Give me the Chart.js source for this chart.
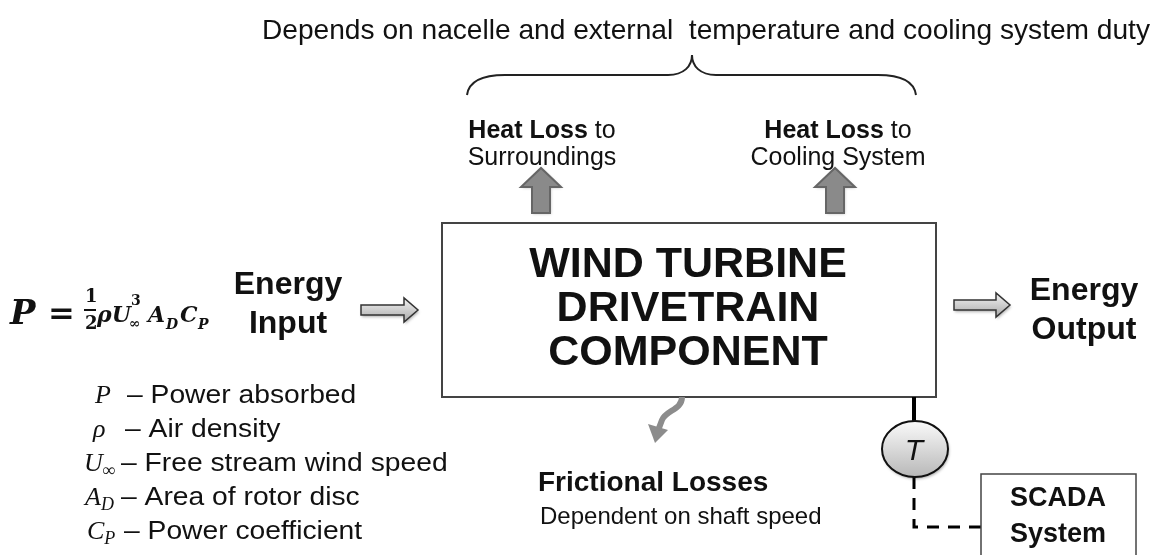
<!DOCTYPE html>
<html>
<head>
<meta charset="utf-8">
<title>Wind turbine drivetrain component</title>
<script src="https://cdn.jsdelivr.net/npm/chart.js@4.4.1/dist/chart.umd.min.js"></script>
<style>
    body { margin: 0; background: #fff; }
    #wrap { width: 1157px; height: 555px; }
</style>
</head>
<body>
<div id="wrap"><canvas id="diagram" width="1157" height="555"></canvas></div>
<script>
// texts of the diagram
const topNote = ['Depends on nacelle and external  temperature and cooling system duty'];
const heatLossBold = ['Heat Loss', 'Heat Loss'];
const heatLossTo = [' to', ' to'];
const heatLossTargets = ['Surroundings', 'Cooling System'];
const componentLines = ['WIND TURBINE', 'DRIVETRAIN', 'COMPONENT'];
const inputLines = ['Energy', 'Input'];
const outputLines = ['Energy', 'Output'];
const legendSymbols = ['P', 'ρ', 'U', 'A', 'C'];
const legendSubs = ['', '', '∞', 'D', 'P'];
const legendLabels = ['– Power absorbed', '– Air density', '– Free stream wind speed', '– Area of rotor disc', '– Power coefficient'];
const frictionLines = ['Frictional Losses', 'Dependent on shaft speed'];
const sensorLabel = ['T'];
const scadaLines = ['SCADA', 'System'];

const W = 1157, H = 555;
const SANS = '"Liberation Sans", Arial, sans-serif';
const SERIF = '"DejaVu Serif", "Liberation Serif", serif';

const diagramPlugin = {
    id: 'diagram',
    afterDraw(chart) {
        const ctx = chart.ctx;
        const xs = chart.scales.x, ys = chart.scales.y;
        const px = v => xs.getPixelForValue(v);
        const py = v => ys.getPixelForValue(v);

        const text = (str, x, y, font, align, color) => {
            ctx.font = font;
            ctx.textAlign = align || 'center';
            ctx.textBaseline = 'alphabetic';
            ctx.fillStyle = color || '#111';
            ctx.fillText(str, px(x), py(y));
        };
        // text stretched horizontally by sx
        const wideText = (str, x, y, font, align, sx) => {
            ctx.save();
            ctx.translate(px(x), py(y));
            ctx.scale(sx, 1);
            ctx.font = font;
            ctx.textAlign = align;
            ctx.textBaseline = 'alphabetic';
            ctx.fillStyle = '#111';
            ctx.fillText(str, 0, 0);
            ctx.restore();
        };

        ctx.save();

        // top note, squeezed to its width
        ctx.font = '28px ' + SANS;
        const w0 = ctx.measureText(topNote[0]).width;
        wideText(topNote[0], 706, 39, '28px ' + SANS, 'center', 888 / w0);

        // curly brace
        ctx.beginPath();
        ctx.strokeStyle = '#222';
        ctx.lineWidth = 2;
        ctx.moveTo(px(467), py(95));
        ctx.bezierCurveTo(px(469), py(80), px(485), py(75), px(505), py(75));
        ctx.lineTo(px(668), py(75));
        ctx.bezierCurveTo(px(684), py(75), px(692), py(66), px(692), py(55));
        ctx.bezierCurveTo(px(692), py(66), px(700), py(75), px(716), py(75));
        ctx.lineTo(px(878), py(75));
        ctx.bezierCurveTo(px(898), py(75), px(914), py(80), px(916), py(95));
        ctx.stroke();

        // heat loss labels
        const heatX = [542, 838];
        heatX.forEach((cx, i) => {
            const bold = 'bold 25px ' + SANS, reg = '25px ' + SANS;
            ctx.font = bold;
            const wb = ctx.measureText(heatLossBold[i]).width;
            ctx.font = reg;
            const wr = ctx.measureText(heatLossTo[i]).width;
            const left = cx - (wb + wr) / 2;
            text(heatLossBold[i], left, 138, bold, 'left');
            text(heatLossTo[i], left + wb, 138, reg, 'left');
            text(heatLossTargets[i], cx, 165, reg, 'center');
        });

        // upward block arrows
        const upArrow = (cx) => {
            ctx.save();
            ctx.shadowColor = 'rgba(0,0,0,0.25)';
            ctx.shadowBlur = 3;
            ctx.shadowOffsetX = 1;
            ctx.shadowOffsetY = 1;
            ctx.beginPath();
            ctx.moveTo(px(cx - 9), py(213));
            ctx.lineTo(px(cx - 9), py(187));
            ctx.lineTo(px(cx - 20), py(187));
            ctx.lineTo(px(cx), py(168));
            ctx.lineTo(px(cx + 20), py(187));
            ctx.lineTo(px(cx + 9), py(187));
            ctx.lineTo(px(cx + 9), py(213));
            ctx.closePath();
            ctx.fillStyle = '#8a8a8a';
            ctx.fill();
            ctx.restore();
            ctx.strokeStyle = '#666';
            ctx.lineWidth = 2;
            ctx.stroke();
        };
        upArrow(541);
        upArrow(835);

        // main component box
        ctx.strokeStyle = '#444';
        ctx.lineWidth = 2;
        ctx.strokeRect(px(442), py(223), px(936) - px(442), py(397) - py(223));
        componentLines.forEach((s, i) => text(s, 688, 277 + i * 44, 'bold 43px ' + SANS));

        // horizontal block arrows
        const rightArrow = (x0, x1, cy) => {
            const grad = ctx.createLinearGradient(0, py(cy - 12), 0, py(cy + 12));
            grad.addColorStop(0, '#f4f4f4');
            grad.addColorStop(1, '#a8a8a8');
            ctx.save();
            ctx.shadowColor = 'rgba(0,0,0,0.3)';
            ctx.shadowBlur = 3;
            ctx.shadowOffsetX = 1;
            ctx.shadowOffsetY = 2;
            ctx.beginPath();
            ctx.moveTo(px(x0), py(cy - 5));
            ctx.lineTo(px(x1 - 14), py(cy - 5));
            ctx.lineTo(px(x1 - 14), py(cy - 12));
            ctx.lineTo(px(x1), py(cy));
            ctx.lineTo(px(x1 - 14), py(cy + 12));
            ctx.lineTo(px(x1 - 14), py(cy + 5));
            ctx.lineTo(px(x0), py(cy + 5));
            ctx.closePath();
            ctx.fillStyle = grad;
            ctx.fill();
            ctx.restore();
            ctx.strokeStyle = '#333';
            ctx.lineWidth = 1.5;
            ctx.stroke();
        };
        rightArrow(361, 418, 310);
        rightArrow(954, 1010, 305);

        // energy in / out
        inputLines.forEach((s, i) => text(s, 288, 294 + i * 39, 'bold 32px ' + SANS));
        outputLines.forEach((s, i) => text(s, 1084, 300 + i * 39, 'bold 32px ' + SANS));

        // power formula
        const fb = 'italic bold ';
        text('P', 10, 324, fb + '34px ' + SERIF, 'left');
        text('=', 48, 324, 'bold 32px ' + SERIF, 'left');
        text('1', 85, 302, 'bold 18px ' + SERIF, 'left');
        ctx.fillStyle = '#111';
        ctx.fillRect(px(84), py(309), px(96) - px(84), 2);
        text('2', 85, 329, 'bold 18px ' + SERIF, 'left');
        text('ρU', 97, 322, fb + '22px ' + SERIF, 'left');
        text('3', 131, 305, 'bold 14px ' + SERIF, 'left');
        text('∞', 129, 328, 'bold 14px ' + SERIF, 'left');
        text('A', 148, 322, fb + '22px ' + SERIF, 'left');
        text('D', 166, 329, fb + '14px ' + SERIF, 'left');
        text('C', 180, 322, fb + '22px ' + SERIF, 'left');
        text('P', 198, 329, fb + '14px ' + SERIF, 'left');

        // symbol legend
        const symX = [95, 93, 84, 85, 87];
        const dashX = [127, 125, 121, 121, 124];
        legendSymbols.forEach((s, i) => {
            const base = 403 + i * 34;
            const symFont = 'italic 26px "Liberation Serif", serif';
            text(s, symX[i], base, symFont, 'left');
            ctx.font = symFont;
            const sw = ctx.measureText(s).width;
            if (legendSubs[i]) text(legendSubs[i], symX[i] + sw, base + 5, 'italic 18px "Liberation Serif", serif', 'left');
            wideText(legendLabels[i], dashX[i], base, '25px ' + SANS, 'left', 1.13);
        });

        // frictional losses squiggle
        ctx.beginPath();
        ctx.strokeStyle = '#8c8c8c';
        ctx.lineWidth = 6;
        ctx.lineCap = 'butt';
        ctx.moveTo(px(682), py(397));
        ctx.bezierCurveTo(px(682), py(410), px(666), py(410), px(662), py(420));
        ctx.lineTo(px(659), py(428));
        ctx.stroke();
        ctx.beginPath();
        ctx.moveTo(px(648), py(424));
        ctx.lineTo(px(668), py(430));
        ctx.lineTo(px(655), py(443));
        ctx.closePath();
        ctx.fillStyle = '#8c8c8c';
        ctx.fill();

        text(frictionLines[0], 538, 491, 'bold 28px ' + SANS, 'left');
        text(frictionLines[1], 540, 524, '24px ' + SANS, 'left');

        // temperature sensor
        ctx.beginPath();
        ctx.strokeStyle = '#000';
        ctx.lineWidth = 4;
        ctx.moveTo(px(914), py(397));
        ctx.lineTo(px(914), py(422));
        ctx.stroke();

        ctx.save();
        ctx.setLineDash([12, 9]);
        ctx.lineWidth = 3;
        ctx.beginPath();
        ctx.moveTo(px(914), py(477));
        ctx.lineTo(px(914), py(527));
        ctx.lineTo(px(981), py(527));
        ctx.stroke();
        ctx.restore();

        const eg = ctx.createLinearGradient(0, py(421), 0, py(477));
        eg.addColorStop(0, '#fafafa');
        eg.addColorStop(1, '#b8b8b8');
        ctx.save();
        ctx.shadowColor = 'rgba(0,0,0,0.35)';
        ctx.shadowBlur = 3;
        ctx.shadowOffsetX = 1;
        ctx.shadowOffsetY = 2;
        ctx.beginPath();
        ctx.ellipse(px(915), py(449), px(948) - px(915), py(477) - py(449), 0, 0, Math.PI * 2);
        ctx.fillStyle = eg;
        ctx.fill();
        ctx.restore();
        ctx.strokeStyle = '#111';
        ctx.lineWidth = 2;
        ctx.stroke();
        text(sensorLabel[0], 914, 460, 'italic 30px ' + SANS);

        // SCADA box
        ctx.strokeStyle = '#444';
        ctx.lineWidth = 1.5;
        ctx.strokeRect(px(981), py(474), px(1136) - px(981), py(560) - py(474));
        text(scadaLines[0], 1058, 506, 'bold 27px ' + SANS);
        text(scadaLines[1], 1058, 542, 'bold 27px ' + SANS);

        ctx.restore();
    }
};

new Chart(document.getElementById('diagram').getContext('2d'), {
    type: 'scatter',
    data: { datasets: [{ data: [], showLine: false }] },
    options: {
        responsive: false,
        animation: false,
        events: [],
        layout: { padding: 0 },
        plugins: { legend: { display: false }, tooltip: { enabled: false } },
        scales: {
            x: { type: 'linear', min: 0, max: W, display: false },
            y: { type: 'linear', min: 0, max: H, reverse: true, display: false }
        }
    },
    plugins: [diagramPlugin]
});
</script>
</body>
</html>
